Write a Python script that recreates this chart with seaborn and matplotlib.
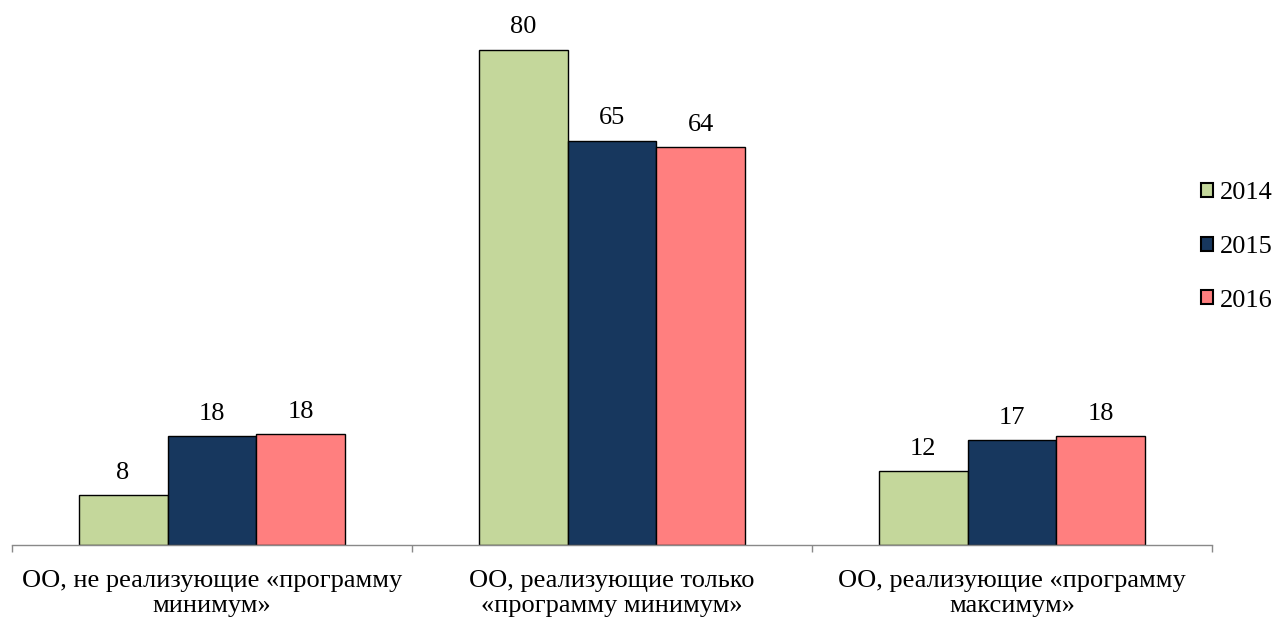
import matplotlib
matplotlib.use("Agg")
import matplotlib.pyplot as plt
import seaborn as sns
import pandas as pd

categories = ["ОО, не реализующие «программу\nминимум»",
              "ОО, реализующие только\n«программу минимум»",
              "ОО, реализующие «программу\nмаксимум»"]
years = ["2014", "2015", "2016"]
v2014 = [8.1, 80.0, 12.0]
v2015 = [17.6, 65.3, 17.0]
v2016 = [17.9, 64.3, 17.6]
colors = ["#C4D79B", "#17375E", "#FF7F7F"]

df = pd.DataFrame({
    "category": categories * 3,
    "year": [y for y in years for _ in categories],
    "value": v2014 + v2015 + v2016,
})

sns.set_theme(style="white")
plt.rcParams["font.family"] = ["Liberation Serif", "DejaVu Serif"]
plt.rcParams["text.color"] = "black"
plt.rcParams["xtick.color"] = "black"

FS = 19

fig = plt.figure(figsize=(12.74, 6.21), dpi=100)
ax = fig.add_axes([12 / 1274, 76 / 621, 1200 / 1274, 545 / 621])

sns.barplot(data=df, x="category", y="value", hue="year", hue_order=years,
            palette=colors, width=0.667, edgecolor="black", linewidth=1.0,
            saturation=1, ax=ax, legend=True)

for c in ax.containers:
    ax.bar_label(c, fmt="%.0f", padding=8, fontsize=FS, color="black")

ax.set_xlim(-0.5, 2.5)
ax.set_ylim(0, 88.0)
ax.set_xlabel("")
ax.set_ylabel("")
ax.set_yticks([])
for s in ["top", "right", "left"]:
    ax.spines[s].set_visible(False)
ax.spines["bottom"].set_color("#898989")
ax.spines["bottom"].set_linewidth(1.0)

ax.set_xticks([0, 1, 2])
ax.set_xticklabels(categories, fontsize=FS, linespacing=1.15, color="black")
ax.tick_params(axis="x", length=0, pad=18)
ax.set_xticks([-0.5, 0.5, 1.5, 2.5], minor=True)
ax.tick_params(axis="x", which="minor", length=5, color="#898989", width=1.0, direction="out", bottom=True)

leg = ax.legend(loc="center left", bbox_to_anchor=(1201 / 1274, (621 - 247) / 621),
                bbox_transform=fig.transFigure, frameon=False, fontsize=FS,
                handlelength=0.45, handleheight=0.45, handletextpad=0.25,
                labelspacing=1.2, borderaxespad=0, borderpad=0)
for h in leg.legend_handles:
    h.set_edgecolor("black")
    h.set_linewidth(1.5)
for t in leg.get_texts():
    t.set_color("black")

fig.savefig("out.png", dpi=100)
